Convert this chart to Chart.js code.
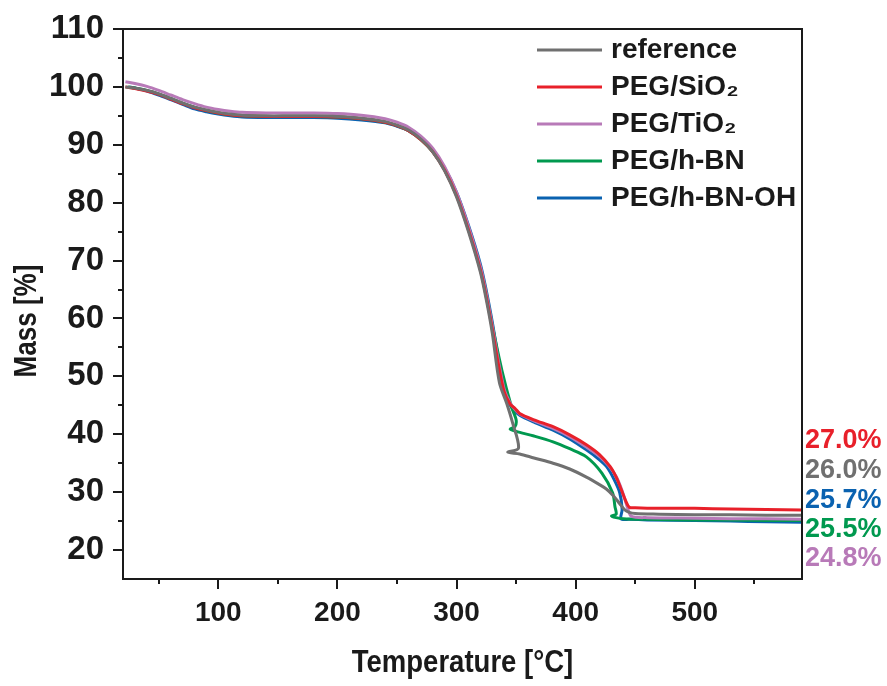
<!DOCTYPE html>
<html>
<head>
<meta charset="utf-8">
<script src="https://cdn.jsdelivr.net/npm/chart.js@4.4.1/dist/chart.umd.min.js"></script>
<style>
  html, body { margin: 0; padding: 0; background: #ffffff; }
  #wrap { width: 887px; height: 686px; }
</style>
</head>
<body>
<div id="wrap"><canvas id="c" width="887" height="686"></canvas></div>
<script>
// ---------- data ----------
const seriesNames = ['reference', 'PEG/SiO\u2082', 'PEG/TiO\u2082', 'PEG/h-BN', 'PEG/h-BN-OH'];
const seriesColors = ['#707070', '#e8202a', '#b87ab8', '#00994f', '#0a62b0'];

const refT = [22,30,40,50,60,70,80,90,100,110,120,140,160,180,200,220,240,250,260,270,280,290,300,310,320,325,330,336,342,347,352,343,353,365,381,395,409,420,426,432,437,441,445,450,470,500,530,560,590];
const refM = [100,99.8,99.4,98.8,98.0,97.2,96.5,96.0,95.6,95.3,95.1,95.0,95.0,95.0,94.9,94.6,94.0,93.4,92.5,91.0,88.8,85.5,81.0,75.0,68.0,63.2,57.5,48.9,45.4,42.0,37.6,36.9,36.6,35.9,35.0,34.0,32.6,31.3,30.5,29.3,28.0,27.0,26.5,26.3,26.2,26.1,26.1,26.0,26.0];

const sioT = [22,30,40,50,60,70,80,90,100,110,120,140,160,180,200,220,240,250,260,270,280,290,300,310,320,325,330,335,340,345,349,353,365,381,395,409,420,429,434,438,442,445,450,470,500,530,560,590];
const sioM = [100,99.7,99.3,98.7,97.9,97.1,96.4,95.9,95.5,95.2,95.0,94.9,94.9,94.9,94.8,94.5,93.9,93.3,92.4,90.9,88.8,85.6,81.2,75.3,68.4,63.7,58.2,52.2,47.3,45.2,44.5,43.6,42.5,41.3,39.9,38.2,36.5,34.4,32.6,30.6,28.5,27.4,27.3,27.2,27.2,27.1,27.0,26.9];

const tioT = [22,30,40,50,60,70,80,90,100,110,120,140,160,180,200,220,240,250,260,270,280,290,300,310,320,325,330,335,340,345,349,353,365,381,395,409,420,428,434,438,441,444,447,460,500,530,560,590];
const tioM = [100.9,100.6,100.1,99.4,98.6,97.8,97.1,96.5,96.1,95.8,95.6,95.5,95.5,95.5,95.4,95.1,94.5,93.9,93.0,91.5,89.4,86.2,81.8,75.9,69.0,64.3,58.8,52.8,47.8,45.4,44.3,43.5,42.3,41.0,39.6,37.8,36.2,34.5,32.7,30.8,29.0,27.0,25.8,25.6,25.5,25.4,25.4,25.3];

const hbnT = [24,30,40,50,60,70,80,90,100,110,120,140,160,180,200,220,240,250,260,270,280,290,300,310,320,325,330,338,346,350,349,345,350,365,381,395,409,422,431,433,434,430,434,440,460,500,530,560,590];
const hbnM = [100,99.8,99.4,98.8,98.0,97.2,96.5,95.9,95.5,95.2,95.0,94.9,94.9,94.9,94.8,94.5,93.9,93.3,92.4,90.9,88.8,85.7,81.4,75.6,68.8,64.2,58.8,51.1,44.8,42.5,41.3,40.9,40.5,39.7,38.7,37.5,36.1,33.3,29.9,27.5,26.2,25.9,25.6,25.4,25.3,25.2,25.2,25.1,25.1];

const hbnohT = [25,30,40,50,60,70,80,90,100,110,120,140,160,180,200,220,240,250,260,270,280,290,300,310,320,325,330,335,340,344,348,353,365,381,395,409,420,426,432,437,439,438,445,460,500,530,560,590];
const hbnohM = [100,99.8,99.3,98.6,97.8,97.0,96.2,95.7,95.3,95.0,94.8,94.7,94.7,94.7,94.6,94.3,93.8,93.2,92.4,91.0,89.0,86.0,81.8,76.1,69.4,64.8,59.4,53.3,48.2,45.4,44.2,43.3,42.1,40.7,39.2,37.3,35.6,34.4,32.3,29.9,27.0,25.4,25.3,25.2,25.1,25.0,24.9,24.8];

const seriesT = [refT, sioT, tioT, hbnT, hbnohT];
const seriesM = [refM, sioM, tioM, hbnM, hbnohM];

const xTicks = [100, 200, 300, 400, 500];
const yTicks = [20, 30, 40, 50, 60, 70, 80, 90, 100, 110];
const xTitle = 'Temperature [\u00b0C]';
const yTitle = 'Mass [%]';
const endLabels = ['27.0%', '26.0%', '25.7%', '25.5%', '24.8%'];
const endLabelColors = ['#e8202a', '#707070', '#0a62b0', '#00994f', '#b87ab8'];

// ---------- chart ----------
const datasets = seriesNames.map((name, i) => ({
  label: name,
  data: seriesT[i].map((t, k) => ({ x: t, y: seriesM[i][k] })),
  borderColor: seriesColors[i],
  backgroundColor: seriesColors[i],
  borderWidth: 3,
  pointRadius: 0,
  tension: 0.3,
  fill: false
}));

const FONT = "'Liberation Sans', Arial, Helvetica, sans-serif";
const INK = '#1a1a1a';

function condensedText(ctx, text, cx, cy, angle, size, squeeze) {
  ctx.save();
  ctx.translate(cx, cy);
  ctx.rotate(angle);
  ctx.scale(squeeze, 1);
  ctx.font = "bold " + size + "px " + FONT;
  ctx.fillStyle = INK;
  ctx.textAlign = 'center';
  ctx.textBaseline = 'middle';
  ctx.fillText(text, 0, 0);
  ctx.restore();
}

const frameAndTicks = {
  id: 'frameAndTicks',
  afterDraw(chart) {
    const { ctx, chartArea: a, scales: { x, y } } = chart;
    ctx.save();
    ctx.strokeStyle = INK;
    ctx.lineWidth = 2;
    ctx.strokeRect(a.left, a.top, a.right - a.left, a.bottom - a.top);
    for (let v = 50; v <= 590; v += 50) {
      const px = Math.round(x.getPixelForValue(v));
      const len = v % 100 === 0 ? 10 : 5;
      ctx.beginPath(); ctx.moveTo(px, a.bottom); ctx.lineTo(px, a.bottom + len); ctx.stroke();
    }
    for (let v = 20; v <= 110; v += 5) {
      const py = Math.round(y.getPixelForValue(v));
      const len = v % 10 === 0 ? 10 : 5;
      ctx.beginPath(); ctx.moveTo(a.left, py); ctx.lineTo(a.left - len, py); ctx.stroke();
    }
    // axis titles
    condensedText(ctx, yTitle, 27, 321, -Math.PI / 2, 31, 0.84);
    condensedText(ctx, xTitle, (a.left + a.right) / 2, 663, 0, 32, 0.86);
    // end-value labels on the right
    ctx.font = "bold 27px " + FONT;
    ctx.textAlign = 'left';
    ctx.textBaseline = 'middle';
    const labelY = [441, 471, 501, 530, 559];
    endLabels.forEach((t, i) => {
      ctx.fillStyle = endLabelColors[i];
      ctx.fillText(t, a.right + 3, labelY[i]);
    });
    // legend
    ctx.font = "bold 28px " + FONT;
    chart.data.datasets.forEach((ds, i) => {
      const ly = 50 + i * 37;
      ctx.strokeStyle = ds.borderColor;
      ctx.lineWidth = 3;
      ctx.beginPath(); ctx.moveTo(537, ly); ctx.lineTo(602, ly); ctx.stroke();
      ctx.fillStyle = INK;
      ctx.fillText(ds.label, 611, ly);
    });
    ctx.restore();
  }
};

new Chart(document.getElementById('c'), {
  type: 'line',
  data: { datasets },
  options: {
    responsive: false,
    animation: false,
    layout: { padding: { top: 29, right: 85, left: 0, bottom: 0 } },
    plugins: { legend: { display: false }, tooltip: { enabled: false } },
    scales: {
      x: {
        type: 'linear', min: 20, max: 590,
        afterFit(s) { s.height = 107; s.paddingLeft = 0; s.paddingRight = 0; },
        afterBuildTicks(s) { s.ticks = xTicks.map(v => ({ value: v })); },
        grid: { display: false, drawTicks: false },
        border: { display: false },
        ticks: { color: INK, font: { family: FONT, size: 28, weight: 'bold' }, padding: 17, maxRotation: 0, autoSkip: false },
        title: { display: false }
      },
      y: {
        type: 'linear', min: 15, max: 110,
        afterFit(s) { s.width = 123; s.paddingTop = 0; s.paddingBottom = 0; },
        afterBuildTicks(s) { s.ticks = yTicks.map(v => ({ value: v })); },
        grid: { display: false, drawTicks: false },
        border: { display: false },
        ticks: { color: INK, font: { family: FONT, size: 33, weight: 'bold' }, padding: 19, autoSkip: false },
        title: { display: false }
      }
    }
  },
  plugins: [frameAndTicks]
});
</script>
</body>
</html>
